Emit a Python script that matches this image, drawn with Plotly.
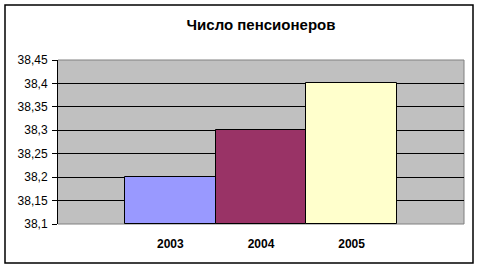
import plotly.graph_objects as go

years = ["2003", "2004", "2005"]
values = [38.2, 38.3, 38.4]
colors = ["#9999FF", "#993366", "#FFFFCC"]
y_ticks = [38.1, 38.15, 38.2, 38.25, 38.3, 38.35, 38.4, 38.45]
y_tick_labels = ["38,1", "38,15", "38,2", "38,25", "38,3", "38,35", "38,4", "38,45"]
title = "Число пенсионеров"

y_min, y_max = 38.1, 38.45
positions = list(range(len(years)))

fig = go.Figure()
fig.add_trace(go.Bar(
    x=positions,
    y=[v - y_min for v in values],
    base=y_min,
    width=1.0,
    marker=dict(color=colors, line=dict(color="black", width=1)),
    showlegend=False,
))

L, R, T, B = 58, 16, 60, 46
W, H = 480, 270
pw, ph = W - L - R, H - T - B

def px(x):
    return (x - L) / pw

def py(y):
    return (H - B - y) / ph

fig.update_layout(
    width=W, height=H,
    margin=dict(l=L, r=R, t=T, b=B, pad=0),
    paper_bgcolor="white",
    plot_bgcolor="#C0C0C0",
    font=dict(family="Liberation Sans, Arial, sans-serif", size=12, color="black"),
    title=dict(text="<b>" + title + "</b>", x=0.5, xref="paper", xanchor="center",
               y=1 - 25 / H, yanchor="middle", font=dict(size=15)),
    bargap=0,
    xaxis=dict(
        range=[-1.24, 3.24],
        tickvals=positions, ticktext=["<b>" + y + "</b>" for y in years],
        showgrid=False, zeroline=False, showline=False, ticks="",
        ticklen=0, tickfont=dict(size=12), ticklabelstandoff=11,
    ),
    yaxis=dict(
        range=[y_min, y_max],
        tickvals=y_ticks, ticktext=y_tick_labels,
        showgrid=True, gridcolor="black", gridwidth=1,
        zeroline=False, showline=True, linecolor="black", linewidth=1,
        ticks="outside", ticklen=5, tickcolor="black", tickfont=dict(size=12),
        ticklabelstandoff=2,
    ),
    shapes=[
        dict(type="path", xref="paper", yref="paper",
             path="M 0 1 L 1 1 L 1 0 L 0 0", line=dict(color="#808080", width=1),
             layer="below"),
        dict(type="rect", xref="paper", yref="paper",
             x0=px(5), x1=px(473), y0=py(263), y1=py(5),
             line=dict(color="black", width=1.5)),
    ],
)

fig.write_html("out.html")
